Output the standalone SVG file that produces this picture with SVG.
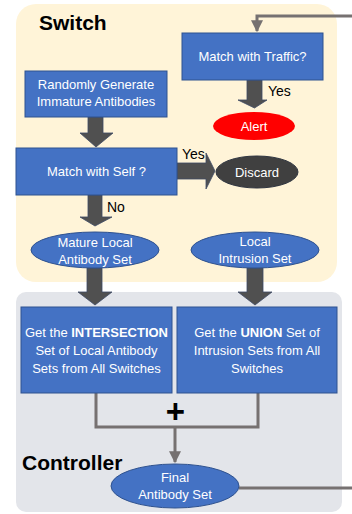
<svg xmlns="http://www.w3.org/2000/svg" width="352" height="514" viewBox="0 0 352 514">
<defs>
<style>
.box{fill:#4472C4;stroke:#2F528F;stroke-width:1}
.ell{fill:#4472C4;stroke:#2F528F;stroke-width:1}
.t{font-family:"Liberation Sans",Arial,sans-serif;font-size:13px;fill:#fff;text-anchor:middle}
.lbl{font-family:"Liberation Sans",Arial,sans-serif;font-size:14px;fill:#000}
.title{font-family:"Liberation Sans",Arial,sans-serif;font-size:21px;font-weight:bold;fill:#000}
.blk{fill:#505050;stroke:#3d4a66;stroke-width:0.8}
.con{fill:none;stroke:#767171;stroke-width:3}
</style>
<marker id="ah" viewBox="0 0 10 10" refX="9" refY="5" markerWidth="4" markerHeight="4" orient="auto" markerUnits="strokeWidth">
<path d="M0,0 L10,5 L0,10 z" fill="#767171"/>
</marker>
</defs>
<rect x="16" y="4" width="321" height="278" rx="20" fill="#FFF4D8"/>
<rect x="16" y="292" width="326" height="220" rx="10" fill="#E3E5EA"/>
<text class="title" x="39" y="30">Switch</text>
<text class="title" x="22" y="470">Controller</text>
<g id="connectors">
<path class="blk" d="M247,80 H262 V100 H267 L254.5,108 L238,100 H247 Z"/>
<path class="blk" d="M88,117 H103 V133 H113 L96,147 L80,133 H88 Z"/>
<path class="blk" d="M177,163 H206 V153 L215,171 L206,189 V179 H177 Z"/>
<path class="blk" d="M88,195 H102 V217 H112 L95,226 L80,217 H88 Z"/>
<path class="blk" d="M87,268 H102 V292 H112 L95,305 L78,292 H87 Z"/>
<path class="blk" d="M247,268 H263 V292 H272 L255,305 L238,292 H247 Z"/>
<path class="con" d="M352,16 H257 V31" marker-end="url(#ah)"/>
<path class="con" d="M96,393 V427 H258 V393"/>
<path class="con" d="M175,427 V462" marker-end="url(#ah)"/>
<path class="con" d="M239,488 H352"/>
<text class="lbl" x="268" y="96">Yes</text>
<text class="lbl" x="182" y="159">Yes</text>
<text class="lbl" x="107" y="212">No</text>
<text x="175.5" y="423" font-family="Liberation Sans,Arial,sans-serif" font-size="33" font-weight="bold" text-anchor="middle" fill="#000">+</text>
</g>
<g id="match-traffic">
<rect class="box" x="182" y="33" width="141" height="47"/>
<text class="t" x="252.5" y="61">Match with Traffic?</text>
</g>
<g id="alert">
<ellipse cx="254" cy="126" rx="41" ry="14" fill="#FF0000"/>
<text class="t" x="254" y="130.5">Alert</text>
</g>
<g id="random-generate">
<rect class="box" x="25" y="71" width="142" height="46"/>
<text class="t" x="96" y="89">Randomly Generate</text>
<text class="t" x="96" y="106">Immature Antibodies</text>
</g>
<g id="match-self">
<rect class="box" x="16" y="148" width="161" height="47"/>
<text class="t" x="96.5" y="176">Match with Self ?</text>
</g>
<g id="discard">
<ellipse cx="257" cy="172" rx="41" ry="16" fill="#404040" stroke="#2F3540" stroke-width="1"/>
<text class="t" x="257" y="176.5">Discard</text>
</g>
<g id="mature-local">
<ellipse class="ell" cx="95" cy="250" rx="64" ry="18"/>
<text class="t" x="95" y="247">Mature Local</text>
<text class="t" x="95" y="264">Antibody Set</text>
</g>
<g id="local-intrusion">
<ellipse class="ell" cx="255" cy="250" rx="64" ry="18"/>
<text class="t" x="255" y="246">Local</text>
<text class="t" x="255" y="263">Intrusion Set</text>
</g>
<g id="intersection">
<rect class="box" x="21" y="307" width="151" height="86"/>
<text class="t" x="96.5" y="337">Get the <tspan font-weight="bold">INTERSECTION</tspan></text>
<text class="t" x="96.5" y="355">Set of Local Antibody</text>
<text class="t" x="96.5" y="373">Sets from All Switches</text>
</g>
<g id="union">
<rect class="box" x="177" y="307" width="160" height="86"/>
<text class="t" x="257" y="337">Get the <tspan font-weight="bold">UNION</tspan> Set of</text>
<text class="t" x="257" y="355">Intrusion Sets from All</text>
<text class="t" x="257" y="373">Switches</text>
</g>
<g id="final">
<ellipse class="ell" cx="175" cy="486" rx="64" ry="22"/>
<text class="t" x="175" y="482">Final</text>
<text class="t" x="175" y="499">Antibody Set</text>
</g>
</svg>
